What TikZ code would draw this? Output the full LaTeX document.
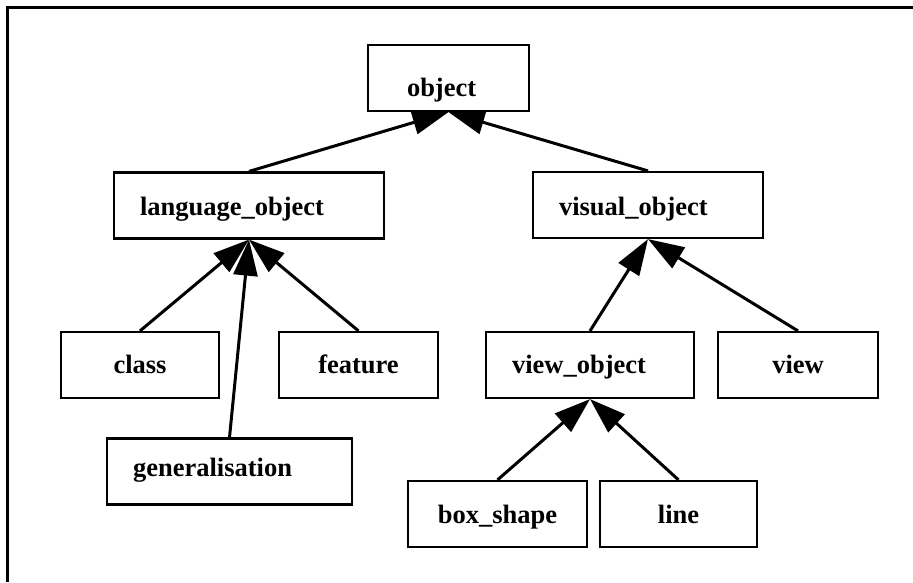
\documentclass[tikz,border=0pt]{standalone}
\usepackage{fontspec}
\setmainfont{Liberation Serif}
\usetikzlibrary{arrows.meta}

\begin{document}
\begin{tikzpicture}[x=1pt, y=-1pt,
		box/.style={draw, line width=2.2pt, minimum height=66pt, inner sep=0pt, text height=22pt, text depth=6pt, font=\fontsize{26.5}{30}\selectfont\bfseries},
		lbox/.style={box, align=left, inner xsep=26pt},
		isa/.style={line width=3pt, -{Triangle[length=36pt, width=24pt]}}]
	\useasboundingbox (0,0) rectangle (913,582);
	\draw[line width=3pt] (913,7) -- (7,7) -- (7,582);
	% top
	\node[lbox, inner xsep=39pt, text width=83pt, text height=37pt, text depth=0pt] (object) at (448.5,78) {object};
	% language side
	\node[lbox, text width=218pt, text height=23pt, text depth=3pt] (langobj) at (249,205.5) {language\_object};
	\node[box, minimum width=158pt] (class) at (140,365) {class};
	\node[box, minimum width=159pt] (feature) at (358.5,365) {feature};
	\node[lbox, text width=193pt, text height=15pt, text depth=6pt] (generalisation) at (229.5,471.5) {generalisation};
	% visual side
	\node[lbox, text width=178pt, text height=23pt, text depth=3pt] (visobj) at (648,205) {visual\_object};
	\node[lbox, text width=156pt] (viewobj) at (590,365) {view\_object};
	\node[box, minimum width=160pt] (view) at (798,365) {view};
	\node[box, minimum width=179pt, text height=23pt, text depth=5pt] (boxshape) at (497.5,514) {box\_shape};
	\node[box, minimum width=157pt, text height=23pt, text depth=5pt] (line) at (678.5,514) {line};
	% edges
	\draw[isa] (langobj.north) -- (object.south);
	\draw[isa] (visobj.north) -- (object.south);
	\draw[isa] (class.north) -- (langobj.south);
	\draw[isa] (generalisation.north) -- (langobj.south);
	\draw[isa] (feature.north) -- (langobj.south);
	\draw[isa] (viewobj.north) -- (visobj.south);
	\draw[isa] (view.north) -- (visobj.south);
	\draw[isa] (boxshape.north) -- (viewobj.south);
	\draw[isa] (line.north) -- (viewobj.south);
\end{tikzpicture}
\end{document}
